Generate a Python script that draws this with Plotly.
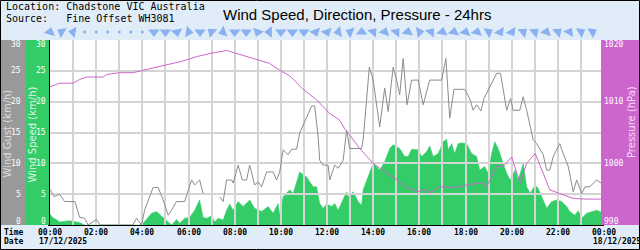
import plotly.graph_objects as go

# ---------------- data (minutes after 00:00, 17/12/2025) ----------------
gust_min = [0, 10, 25, 38, 65, 77, 90, 99, 121, 130, 215, 225, 238, 246, 268, 281, 294, 307, 316, 329,
            350, 368, 376, 389, 398, 420, 441, 450, 459, 472, 476, 489, 500, 511, 519, 532, 541, 550,
            563, 580, 589, 597, 606, 619, 628, 641, 649, 667, 680, 688, 697, 701, 710, 723, 727, 740,
            749, 762, 771, 779, 810, 814, 830, 840, 857, 870, 879, 892, 901, 909, 918, 928, 940, 957,
            970, 987, 1018, 1029, 1039, 1050, 1078, 1091, 1100, 1109, 1120, 1128, 1161, 1171, 1182,
            1187, 1197, 1204, 1221, 1230, 1239, 1256, 1265, 1282, 1291, 1299, 1308, 1325, 1334, 1347,
            1360, 1369, 1382, 1391, 1403, 1421, 1440]
gust_kmh = [5.8, 4.6, 5.0, 3.8, 3.8, 1.25, 1.1, 0, 0.9, 0, 0, 1.1, 0, 2.4, 6.1, 6.1, 4.1, 1.6, 2.4, 3.8,
            3.8, 7.3, 6.5, 7.3, 5.1, None, 4.6, 3.8, 7.3, 7.3, 6.8, 9.7, 7.3, 7.3, 9.7, 6.5, 7.0, 6.2,
            8.6, 8.6, 7.3, 8.6, 12.2, 11.4, 12.3, 12.3, 14.9, 17.6, 19.3, 19.3, 14.3, 10.5, 9.7, 9.7, 7.3, 9.7,
            9.2, 10.5, 15.4, 12.4, 12.4, 13.8, 25.6, 23.5, 15.9, 22.2, 18.4, 25.6, 23.5, 21.1, 27.0, 19.5, 23.5, 23.5,
            19.5, 23.5, 23.5, 27.0, 17.3, 22.0, 22.0, 20.5, 18.6, 19.5, 18.5, 20.5, 24.6, 24.6, 20.3,
            18.6, 20.5, 18.6, 18.6, 20.8, 18.6, 13.8, 13.2, 11.4, 8.9, 8.9, 11.1, 13.2, 11.6, 9.5,
            5.4, 7.3, 5.1, 6.2, 6.2, 7.3, 6.5]

speed_min = [0, 7, 18, 25, 51, 65, 77, 90, 233, 242, 264, 277, 286, 294, 307, 316, 329, 337, 350, 363,
             376, 389, 398, 408, 420, 428, 437, 450, 459, 467, 476, 489, 502, 519, 532, 550, 567, 580,
             593, 597, 606, 623, 632, 649, 667, 684, 693, 701, 710, 719, 732, 740, 749, 762, 771, 775,
             788, 801, 810, 814, 827, 840, 857, 870, 883, 892, 909, 922, 931, 940, 957, 966, 979, 987,
             996, 1009, 1022, 1031, 1035, 1044, 1052, 1061, 1070, 1083, 1096, 1109, 1117, 1130, 1139,
             1148, 1156, 1165, 1178, 1187, 1196, 1209, 1217, 1230, 1239, 1248, 1261, 1269, 1282, 1291,
             1304, 1317, 1330, 1343, 1351, 1364, 1373, 1382, 1395, 1408, 1421, 1440]
speed_kmh = [1.8, 1.2, 0.8, 0.5, 0.7, 0.5, 0.4, 0, 0, 0.3, 1.9, 2.2, 1.6, 1.2, 0.5, 0, 0.9, 0.3, 1.1, 1.2,
             2.4, 4.05, 1.2, 1.1, 1.5, 0.5, 1.1, 0.8, 2.4, 3.4, 2.4, 3.8, 3.0, 4.05, 2.7, 2.2, 3.0, 1.9,
             3.5, 1.6, 4.6, 5.7, 5.1, 8.6, 7.8, 6.2, 6.2, 3.5, 2.7, 3.4, 3.0, 3.5, 2.4, 4.05, 5.4, 4.6,
             5.4, 3.8, 3.2, 5.7, 7.8, 10.0, 8.9, 10.3, 12.4, 13.0, 12.4, 11.1, 11.1, 12.3, 12.2, 11.1, 11.9, 12.8,
             11.1, 11.6, 13.5, 13.9, 12.2, 13.2, 11.6, 13.2, 13.3, 13.2, 11.6, 11.1, 8.9, 9.5, 8.4,
             11.6, 13.5, 12.4, 10.0, 8.4, 7.3, 8.9, 7.3, 10.0, 6.2, 5.1, 6.5, 5.9, 4.05, 2.7,
             3.8, 4.05, 3.8, 3.0, 2.2, 1.6, 2.3, 1.1, 1.9, 2.2, 2.4, 1.9]

pres_min = [0, 25, 60, 77, 95, 138, 147, 181, 216, 242, 277, 294, 320, 346, 381, 415, 459, 493, 537, 571,
            597, 623, 658, 693, 719, 727, 753, 766, 779, 805, 840, 875, 909, 927, 957, 979, 987, 1013,
            1057, 1091, 1126, 1135, 1161, 1178, 1200, 1213, 1222, 1239, 1261, 1282, 1299, 1325, 1360,
            1395, 1440]
pres_hpa = [1012.4, 1013.0, 1013.0, 1013.6, 1014.0, 1014.0, 1014.4, 1014.7, 1014.7, 1015.1, 1015.6, 1015.8,
            1016.3, 1016.6, 1017.3, 1017.8, 1018.3, 1017.7, 1016.9, 1016.2, 1015.1, 1014.2, 1012.0, 1010.3,
            1008.6, 1008.1, 1007.0, 1005.6, 1004.6, 1002.4, 1000.0, 998.4, 997.0, 996.1, 995.4, 995.8,
            995.2, 996.2, 996.1, 996.6, 996.8, 996.2, 999.5, 999.5, 1001.0, 998.6, 996.8, 1000.0, 1001.6,
            998.4, 995.7, 995.1, 994.3, 994.2, 994.2]

dir_min = [0, 30, 60, 90, 120, 150, 180, 210, 240, 270, 300, 330, 360, 390, 420, 450, 480, 510, 540, 570,
           600, 630, 660, 690, 720, 750, 780, 810, 840, 870, 900, 930, 960, 990, 1020, 1050, 1080, 1110,
           1140, 1170, 1200, 1230, 1260, 1290, 1320, 1350, 1380, 1410]
arrow_dir_deg = [15, 300, 280, None, None, None, None, None, None, 180, 180, 170, 100, 180, 310, 250,
                 180, 180, 200, 270, 180, 180, 180, 160, 160, 260, 290, 0, 40, 20, 40, 10, 80, 40, 10,
                 10, 15, 15, 60, 150, 150, 50, 50, 20, 50, 30, 60, 60]

tick_minutes = [0, 120, 240, 360, 480, 600, 720, 840, 960, 1080, 1200, 1320, 1440]
tick_labels = ["00:00", "02:00", "04:00", "06:00", "08:00", "10:00", "12:00", "14:00", "16:00",
               "18:00", "20:00", "22:00", "00:00"]
date_labels = ["17/12/2025", "18/12/2025"]
wind_ticks = [0, 5, 10, 15, 20, 25, 30]
pres_ticks = [990, 1000, 1010, 1020]

# ---------------- layout geometry (pixels) ----------------
W, H = 640, 250
MT, MB, ML, MR = 24, 25, 0, 36
PW, PH = W - ML - MR, H - MT - MB          # 604 x 201
PLOT_LEFT, PLOT_TOP, PLOT_BOTTOM = 50, 40, 225


def px_x(px):
    return (px - ML) / PW


def px_y(py):
    return (H - MB - py) / PH


MONO = "DejaVu Sans Mono"
SANS = "DejaVu Sans"
BLUE_BG = "#E0EDF8"
GRAY = "#999999"
GREEN = "#33CC66"
PINK = "#CC66CC"
GRID = "#D4D4D4"

main_dom_y = [0, px_y(PLOT_TOP)]
arrow_dom_y = [px_y(PLOT_TOP), 1]
dom_x = [px_x(PLOT_LEFT), 1]

fig = go.Figure()

fig.add_trace(go.Scatter(x=speed_min, y=speed_kmh, mode="lines", fill="tozeroy",
                         fillcolor=GREEN, line=dict(color=GREEN, width=0.5),
                         xaxis="x", yaxis="y", hoverinfo="skip", showlegend=False))
fig.add_trace(go.Scatter(x=gust_min, y=gust_kmh, mode="lines", connectgaps=False,
                         line=dict(color="#8C8C8C", width=1),
                         xaxis="x2", yaxis="y2", showlegend=False))
fig.add_trace(go.Scatter(x=pres_min, y=pres_hpa, mode="lines",
                         line=dict(color=PINK, width=1),
                         xaxis="x2", yaxis="y3", showlegend=False))

symbols = ["circle" if d is None else "triangle-up" for d in arrow_dir_deg]
sizes = [3 if d is None else 10 for d in arrow_dir_deg]
angles = [0 if d is None else d for d in arrow_dir_deg]
fig.add_trace(go.Scatter(x=dir_min, y=[0.5] * len(dir_min), mode="markers",
                         marker=dict(symbol=symbols, size=sizes, angle=angles, color="#6495ED",
                                     line=dict(width=0)),
                         cliponaxis=False, xaxis="x3", yaxis="y4", showlegend=False))

fig.update_layout(
    width=W, height=H,
    margin=dict(l=ML, r=MR, t=MT, b=MB, pad=0),
    paper_bgcolor=BLUE_BG, plot_bgcolor="rgba(0,0,0,0)",
    showlegend=False,
    xaxis=dict(domain=dom_x, range=[0, 1440], visible=False, anchor="y"),
    yaxis=dict(domain=main_dom_y, range=[0, 30], visible=False, anchor="x"),
    xaxis2=dict(domain=dom_x, range=[0, 1440], anchor="y2",
                tickmode="array", tickvals=tick_minutes, showticklabels=False,
                ticks="", showgrid=True, gridcolor=GRID, gridwidth=2,
                minor=dict(tick0=0, dtick=60, showgrid=True, gridcolor=GRID, gridwidth=2, ticks=""),
                zeroline=False, showline=True, linecolor="black", linewidth=1),
    yaxis2=dict(domain=main_dom_y, range=[0, 30], anchor="x2", tickvals=wind_ticks,
                showticklabels=False, ticks="", showgrid=True, gridcolor=GRID, gridwidth=2,
                zeroline=False, showline=True, linecolor="black", linewidth=2),
    yaxis3=dict(range=[990, 1020], overlaying="y2", anchor="x2", side="right",
                showgrid=False, showticklabels=False, ticks="", zeroline=False, showline=False),
    xaxis3=dict(domain=dom_x, range=[0, 1440], visible=False, anchor="y4"),
    yaxis4=dict(domain=arrow_dom_y, range=[0, 1], visible=False, anchor="x3"),
)

shapes = [
    dict(type="rect", xref="paper", yref="paper", x0=px_x(PLOT_LEFT), x1=px_x(604),
         y0=px_y(PLOT_BOTTOM), y1=px_y(PLOT_TOP), fillcolor="white", line=dict(width=0), layer="below"),
    dict(type="rect", xref="paper", yref="paper", x0=px_x(0), x1=px_x(26),
         y0=px_y(PLOT_BOTTOM), y1=px_y(PLOT_TOP),
         fillcolor=GRAY, line=dict(width=0), layer="above"),
    dict(type="rect", xref="paper", yref="paper", x0=px_x(26), x1=px_x(49),
         y0=px_y(PLOT_BOTTOM), y1=px_y(PLOT_TOP),
         fillcolor=GREEN, line=dict(width=0), layer="above"),
    dict(type="rect", xref="paper", yref="paper", x0=px_x(601), x1=px_x(640),
         y0=px_y(PLOT_BOTTOM), y1=px_y(PLOT_TOP),
         fillcolor=PINK, line=dict(width=0), layer="above"),
    dict(type="rect", xref="paper", yref="paper", x0=px_x(0.5), x1=px_x(639.5),
         y0=px_y(249.5), y1=px_y(0.5), line=dict(color="black", width=1), layer="above"),
]

ann = []


def clamp_shift(v, lo, hi):
    if v == hi:
        return -5
    if v == lo:
        return 4
    return 0


for v in wind_ticks:
    s = clamp_shift(v, 0, 30)
    for xr in (23, 48):
        ann.append(dict(x=px_x(xr), xref="paper", y=v, yref="y2", yshift=s, text=str(v),
                        xanchor="right", yanchor="middle", showarrow=False,
                        font=dict(family=MONO, size=8, color="white")))
for p in pres_ticks:
    s = clamp_shift(p, 990, 1020)
    ann.append(dict(x=px_x(602), xref="paper", y=p, yref="y3", yshift=s, text=str(p),
                    xanchor="left", yanchor="middle", showarrow=False,
                    font=dict(family=MONO, size=8, color="white")))

for m, lab in zip(tick_minutes, tick_labels):
    ann.append(dict(x=m, xref="x2", y=px_y(232), yref="paper", text=lab, xanchor="center",
                    yanchor="middle", showarrow=False,
                    font=dict(family=MONO, size=8, color="black", weight="bold")))
for m, lab in zip([tick_minutes[0], tick_minutes[-1]], date_labels):
    ann.append(dict(x=m, xref="x2", xshift=-13, y=px_y(241), yref="paper", xanchor="left",
                    yanchor="middle", text=lab, showarrow=False,
                    font=dict(family=MONO, size=8, color="black", weight="bold")))

ann += [
    dict(x=px_x(7), y=px_y(133.5), xref="paper", yref="paper", text="Wind Gust (km/h)",
         textangle=-90, showarrow=False, xanchor="center", yanchor="middle",
         font=dict(family=SANS, size=10, color="#DDDDDD")),
    dict(x=px_x(31.5), y=px_y(135), xref="paper", yref="paper", text="Wind Speed (km/h)",
         textangle=-90, showarrow=False, xanchor="center", yanchor="middle",
         font=dict(family=SANS, size=10, color="#E2F5E8")),
    dict(x=px_x(631.5), y=px_y(122.5), xref="paper", yref="paper", text="Pressure (hPa)",
         textangle=-90, showarrow=False, xanchor="center", yanchor="middle",
         font=dict(family=SANS, size=10, color="#F2DDF2")),
    dict(x=px_x(357), y=px_y(14), xref="paper", yref="paper", xanchor="center", yanchor="middle",
         text="Wind Speed, Direction, Pressure - 24hrs", showarrow=False,
         font=dict(family="Liberation Sans", size=15, color="black")),
    dict(x=px_x(4), y=px_y(6.5), xref="paper", yref="paper", xanchor="left", yanchor="middle",
         text="Location: Chadstone VIC Australia", showarrow=False,
         font=dict(family=MONO, size=10, color="black")),
    dict(x=px_x(4), y=px_y(18.5), xref="paper", yref="paper", xanchor="left", yanchor="middle",
         text="Source:\u00a0\u00a0\u00a0Fine Offset WH3081", showarrow=False,
         font=dict(family=MONO, size=10, color="black")),
    dict(x=px_x(2), y=px_y(232), xref="paper", yref="paper", xanchor="left", yanchor="middle",
         text="Time", showarrow=False,
         font=dict(family=MONO, size=8, color="black", weight="bold")),
    dict(x=px_x(2), y=px_y(241), xref="paper", yref="paper", xanchor="left", yanchor="middle",
         text="Date", showarrow=False,
         font=dict(family=MONO, size=8, color="black", weight="bold")),
]

fig.update_layout(shapes=shapes, annotations=ann)
fig.write_html("out.html")
